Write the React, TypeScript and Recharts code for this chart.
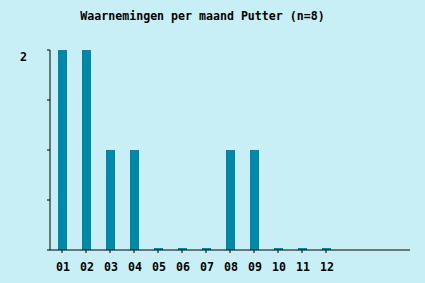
import { Bar, BarChart, XAxis, YAxis } from "recharts";

const months = ["01", "02", "03", "04", "05", "06", "07", "08", "09", "10", "11", "12"];
const counts = [2, 2, 1, 1, 0, 0, 0, 1, 1, 0, 0, 0];
const yTicks = [0, 0.5, 1, 1.5, 2];
const yLabels = [2];

const BG = "#c8eef6";
const BAR = "#0088a8";
const FONT = "'DejaVu Sans Mono', 'Liberation Mono', monospace";

const data = months.map((month, i) => ({ month, count: counts[i] }));

// tickSize and tickMargin are 0, so y is the axis line itself
const XTick = (props: any) => {
  const { x, y, payload } = props;
  return (
    <g>
      <line x1={x} y1={y} x2={x} y2={y + 3} stroke="#000" />
      <text x={x + 1} y={y + 21} textAnchor="middle" fontFamily={FONT} fontWeight="bold" fontSize={11.6} fill="#000">
        {payload.value}
      </text>
    </g>
  );
};

const YTick = (props: any) => {
  const { y, payload } = props;
  if (!yLabels.includes(payload.value)) return <g />;
  return (
    <text x={20} y={y + 11} fontFamily={FONT} fontWeight="bold" fontSize={11.6} fill="#000">
      {payload.value}
    </text>
  );
};

const App = () => {
  return (
    <div style={{ position: "fixed", top: 0, left: 0, width: 425, height: 283, background: BG }}>
      <div
        style={{
          position: "absolute",
          top: 10,
          left: 0,
          width: 405,
          textAlign: "center",
          fontFamily: FONT,
          fontWeight: "bold",
          fontSize: 11.6,
          lineHeight: "13px",
          color: "#000",
        }}
      >
        Waarnemingen per maand Putter (n=8)
      </div>
      <BarChart width={425} height={283} data={data} margin={{ top: 50, right: 15, bottom: 0, left: 0 }} barCategoryGap={0}>
        <XAxis
          dataKey="month"
          height={33}
          padding={{ left: 0, right: 72 }}
          axisLine={{ stroke: "#000" }}
          tickLine={false}
          tickSize={0}
          tickMargin={0}
          tick={<XTick />}
          interval={0}
        />
        <YAxis
          width={50}
          domain={[0, 2]}
          ticks={yTicks}
          axisLine={{ stroke: "#000" }}
          tickLine={{ stroke: "#000" }}
          tickSize={3}
          tick={<YTick />}
          interval={0}
        />
        <Bar dataKey="count" fill={BAR} barSize={9} minPointSize={2} isAnimationActive={false} />
      </BarChart>
    </div>
  );
};

export default App;
